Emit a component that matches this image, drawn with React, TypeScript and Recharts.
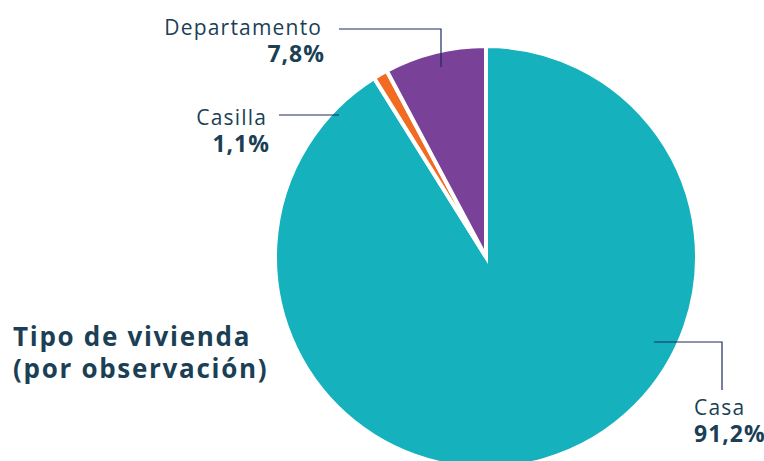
import React from 'react';
import { PieChart, Pie, Cell } from 'recharts';

const categories = ['Casa', 'Casilla', 'Departamento'];
const shares = [91.2, 1.1, 7.8];
const shareLabels = ['91,2%', '1,1%', '7,8%'];

const COLORS = ['#15B1BD', '#F26B22', '#7A4199'];
const TEXT = '#1B3F55';
const LINE = '#1F2A5C';
const FONT = '"Open Sans", sans-serif';

const data = categories.map((name, i) => ({ name, value: shares[i], label: shareLabels[i] }));

// leader-line layout per slice, offsets relative to pie centre
const labelLayout = [
  // Casa: from inside slice to the right, then down
  { anchor: [168, 85], corner: [236, 85], end: [236, 133], text: [208, 158], align: 'start' },
  // Casilla: short horizontal into the teal
  { anchor: [-147, -142], corner: [-207, -142], end: null, text: [-220, -132], align: 'end' },
  // Departamento: from inside slice up, then left
  { anchor: [-45, -190], corner: [-45, -228], end: [-147, -228], text: [-165, -222], align: 'end' },
];

const renderLabel = (props: any) => {
  const { cx, cy, index } = props;
  const l = labelLayout[index];
  const pts = [l.anchor, l.corner, l.end].filter(Boolean) as number[][];
  const d = pts.map((p, i) => `${i ? 'L' : 'M'}${cx + p[0]},${cy + p[1]}`).join(' ');
  const end = l.align === 'end';
  const tx = cx + l.text[0];
  const ty = cy + l.text[1];
  return (
    <g key={`lbl-${index}`}>
      <path d={d} stroke={LINE} strokeWidth={1.2} fill="none" />
      <text x={tx + (end ? 1.2 : 0)} y={ty} textAnchor={l.align} fill={TEXT} fontFamily={FONT} fontSize={21} letterSpacing={1.2}>
        {data[index].name}
      </text>
      <text x={tx + (end ? 4 : 0)} y={ty + 27} textAnchor={l.align} fill={TEXT} fontFamily={FONT} fontSize={23} fontWeight={700} letterSpacing={1}>
        {data[index].label}
      </text>
    </g>
  );
};

export default function App() {
  return (
    <div style={{ position: 'absolute', left: 0, top: 0, width: 764, height: 461, background: '#fff', overflow: 'hidden' }}>
      <PieChart width={764} height={461} margin={{ top: 0, right: 0, bottom: 0, left: 0 }}>
        <Pie
          data={data}
          dataKey="value"
          nameKey="name"
          cx={486}
          cy={257}
          outerRadius={211}
          startAngle={90}
          endAngle={-270}
          stroke="#ffffff"
          strokeWidth={4}
          labelLine={false}
          label={renderLabel}
          isAnimationActive={false}
        >
          {data.map((entry, index) => (
            <Cell key={`cell-${index}`} fill={COLORS[index]} />
          ))}
        </Pie>
      </PieChart>
      <div style={{ position: 'absolute', left: 13, top: 320, color: TEXT, fontFamily: FONT, fontWeight: 700, fontSize: 26, lineHeight: '32px', letterSpacing: 1.7 }}>
        Tipo de vivienda
        <br />
        (por observación)
      </div>
    </div>
  );
}
